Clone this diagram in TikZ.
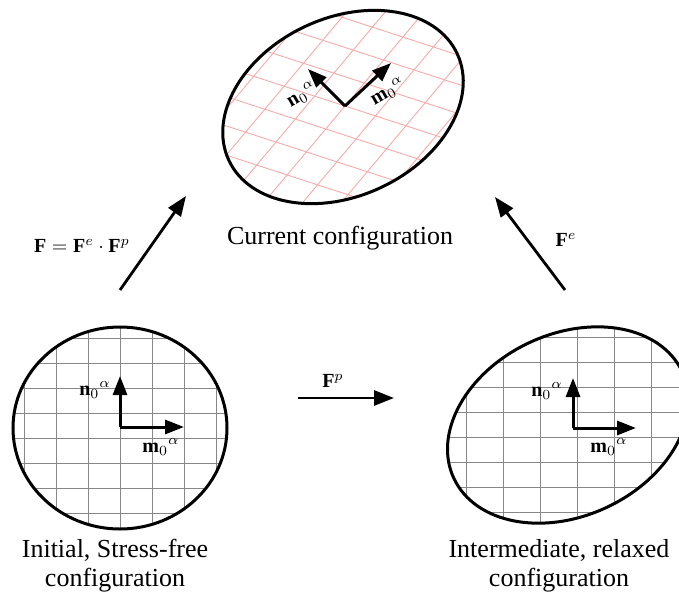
\documentclass[tikz,border=0pt]{standalone}
\usepackage{fontspec}
\setmainfont{Liberation Serif}
\usetikzlibrary{arrows.meta, positioning, calc}
\definecolor{gridgray}{RGB}{135,135,135}
\definecolor{gridpink}{RGB}{248,170,170}

\begin{document}
\begin{tikzpicture}[
        x=0.5pt, y=-0.5pt,
        config/.style={line width=1.5pt},
        gridline/.style={gridgray, line width=0.45pt},
        pinkline/.style={gridpink, line width=0.45pt},
        vec/.style={-{Triangle[length=9.5pt, width=7pt]}, line width=1.5pt},
        map/.style={-{Triangle[length=10pt, width=7.5pt]}, line width=1.4pt},
        lbl/.style={inner sep=0pt, font=\fontsize{10}{12}\selectfont},
        caption/.style={inner sep=0pt, align=center, font=\fontsize{13}{14.5}\selectfont},
    ]
        \useasboundingbox (0,0) rectangle (679,595);

        % initial, stress-free configuration
        \coordinate (c1) at (120,428);
        \begin{scope}
            \clip (c1) ellipse [x radius=107, y radius=101];
            \foreach \k in {-4,...,4}
                \draw[gridline] (120+32*\k,320) -- (120+32*\k,540);
            \foreach \k in {-4,...,5}
                \draw[gridline] (0,413+25*\k) -- (240,413+25*\k);
        \end{scope}
        \draw[config] (c1) ellipse [x radius=107, y radius=101];

        \coordinate (o1) at (120,427);
        \coordinate (n1) at (120,376);
        \coordinate (m1) at (184,427);
        \draw[vec] (o1) -- (n1);
        \draw[vec] (o1) -- (m1);
        \node[lbl] (n1lbl) at (95,390) {$\mathbf{n}_0{}^{\alpha}$};
        \node[lbl] (m1lbl) at (161,447) {$\mathbf{m}_0{}^{\alpha}$};

        % current configuration
        \coordinate (c2) at (343,107);
        \coordinate (o2) at (345,106);
        \begin{scope}
            \clip[rotate around={25:(c2)}] (c2) ellipse [x radius=126, y radius=89];
            \foreach \k in {-7,...,7} {
                \draw[pinkline] ($(o2)+(\k*30*0.643,-\k*30*0.766)$) ++(-190.2,-61.8) -- ++(380.4,123.6);
                \draw[pinkline] ($(o2)+(\k*32*0.951,\k*32*0.309)$) ++(-128.6,153.2) -- ++(257.2,-306.4);
            }
        \end{scope}
        \draw[config, rotate around={25:(c2)}] (c2) ellipse [x radius=126, y radius=89];

        \coordinate (n2) at (308,69);
        \coordinate (m2) at (391,63);
        \draw[vec] (o2) -- (n2);
        \draw[vec] (o2) -- (m2);
        \node[lbl, rotate=30] (n2lbl) at (302,95) {$\mathbf{n}_0{}^{\alpha}$};
        \node[lbl, rotate=30] (m2lbl) at (388,92) {$\mathbf{m}_0{}^{\alpha}$};

        % intermediate, relaxed configuration
        \coordinate (c3) at (568,425);
        \begin{scope}
            \clip[rotate around={25:(c3)}] (c3) ellipse [x radius=126, y radius=91];
            \foreach \k in {-4,...,4}
                \draw[gridline] (577+37*\k,310) -- (577+37*\k,540);
            \foreach \k in {-4,...,5}
                \draw[gridline] (430,412+25*\k) -- (700,412+25*\k);
        \end{scope}
        \draw[config, rotate around={25:(c3)}] (c3) ellipse [x radius=126, y radius=91];

        \coordinate (o3) at (573,428);
        \coordinate (n3) at (573,378);
        \coordinate (m3) at (636,428);
        \draw[vec] (o3) -- (n3);
        \draw[vec] (o3) -- (m3);
        \node[lbl] (n3lbl) at (547,391) {$\mathbf{n}_0{}^{\alpha}$};
        \node[lbl] (m3lbl) at (609,447) {$\mathbf{m}_0{}^{\alpha}$};

        % mappings
        \coordinate (Ftail) at (120,290);
        \coordinate (Fhead) at (186,196);
        \coordinate (Fetail) at (565,290);
        \coordinate (Fehead) at (495,197);
        \coordinate (Fptail) at (298,398);
        \coordinate (Fphead) at (394,398);
        \draw[map] (Ftail) -- (Fhead);
        \draw[map] (Fetail) -- (Fehead);
        \draw[map] (Fptail) -- (Fphead);

        \node[lbl] (F) at (82,246) {$\mathbf{F} = \mathbf{F}^{e}\cdot\mathbf{F}^{p}$};
        \node[lbl] (Fe) at (566,240) {$\mathbf{F}^{e}$};
        \node[lbl] (Fp) at (333,381) {$\mathbf{F}^{p}$};

        \node[caption] (current) at (340,238) {Current configuration};
        \node[caption] (initial) at (115,566) {Initial, Stress-free\\configuration};
        \node[caption] (relaxed) at (559,566) {Intermediate, relaxed\\configuration};

    \end{tikzpicture}
\end{document}
